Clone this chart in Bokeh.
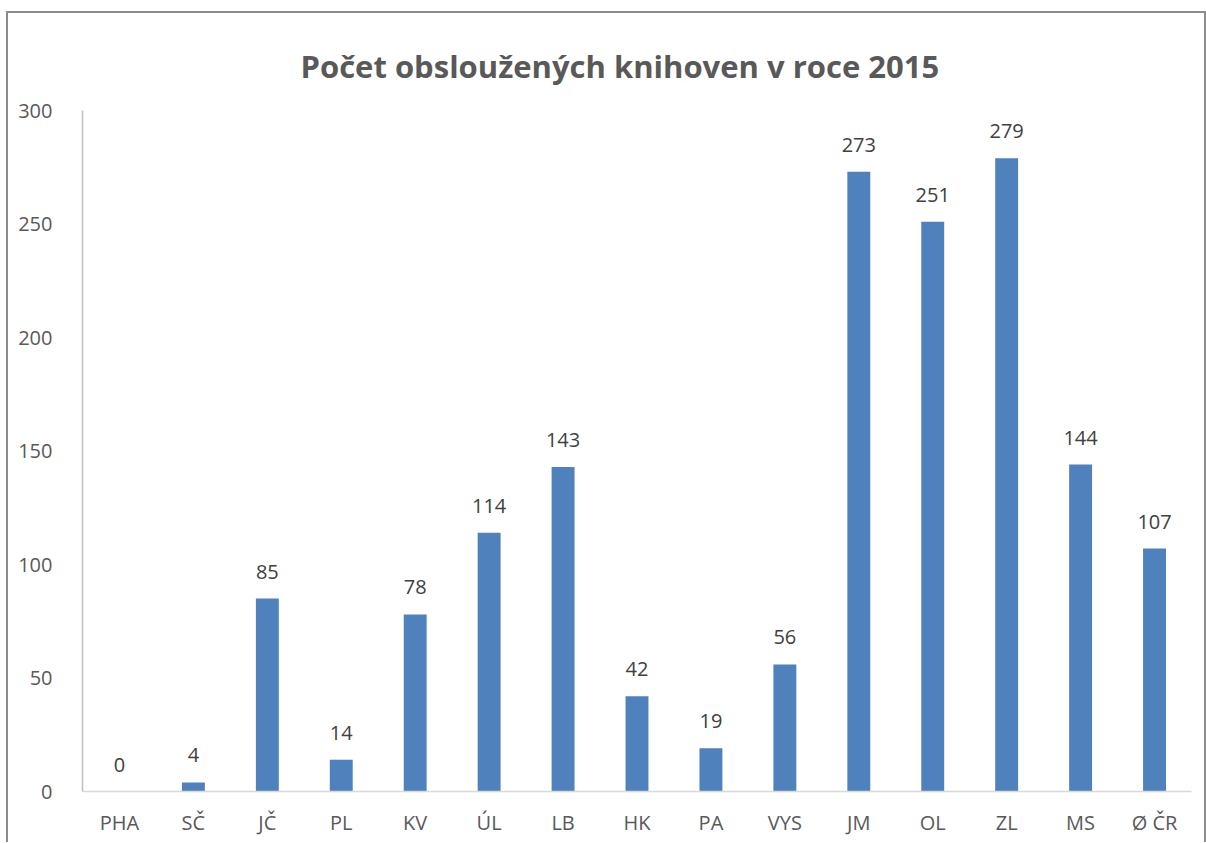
from bokeh.plotting import figure
from bokeh.models import ColumnDataSource, Title, LabelSet
from bokeh.embed import file_html
from bokeh.resources import INLINE
from bokeh.core.properties import value

categories = ["PHA", "SČ", "JČ", "PL", "KV", "ÚL", "LB", "HK", "PA", "VYS", "JM", "OL", "ZL", "MS", "Ø ČR"]
values = [0, 4, 85, 14, 78, 114, 143, 42, 19, 56, 273, 251, 279, 144, 107]
labels = [str(v) for v in values]
title_text = "Počet obsloužených knihoven v roce 2015"

FONT = "Open Sans"

src = ColumnDataSource(dict(cat=categories, val=values, lab=labels))

p = figure(x_range=categories, y_range=(0, 300), width=1200, height=831,
           output_backend="svg", toolbar_location=None,
           min_border_left=74, min_border_right=17, min_border_top=97, min_border_bottom=53)
p.x_range.range_padding = 0

p.vbar(x="cat", top="val", width=0.31, source=src, color="#4F81BD", line_color=None)

labs = LabelSet(x="cat", y="val", text="lab", source=src, text_align="center",
                text_baseline="bottom", y_offset=20, text_font=value(FONT),
                text_font_size="20px", text_color="#404040")
p.add_layout(labs)

p.title = None
t = Title(text=title_text, align="left", text_font=FONT, text_font_size="31px",
          text_font_style="bold", text_color="#595959", offset=218, standoff=48)
p.add_layout(t, "above")

p.xgrid.grid_line_color = None
p.ygrid.grid_line_color = None
p.outline_line_color = None

for ax in (p.xaxis, p.yaxis):
    ax.major_tick_line_color = None
    ax.minor_tick_line_color = None
    ax.axis_line_color = "#d9d9d9"
    ax.axis_line_width = 1.5
    ax.major_label_text_font = FONT
    ax.major_label_text_font_size = "20px"
    ax.major_label_text_color = "#595959"

p.yaxis.ticker = [0, 50, 100, 150, 200, 250, 300]
p.yaxis.major_label_standoff = 24
p.xaxis.major_label_standoff = 11
p.yaxis.axis_line_color = "#bfbfbf"

p.styles = {"margin-left": "6px", "margin-top": "11px",
            "border-top": "2px solid #8c8c8c", "border-left": "2px solid #8c8c8c",
            "border-right": "2px solid #8c8c8c"}

open("out.html", "w").write(file_html(p, INLINE))
